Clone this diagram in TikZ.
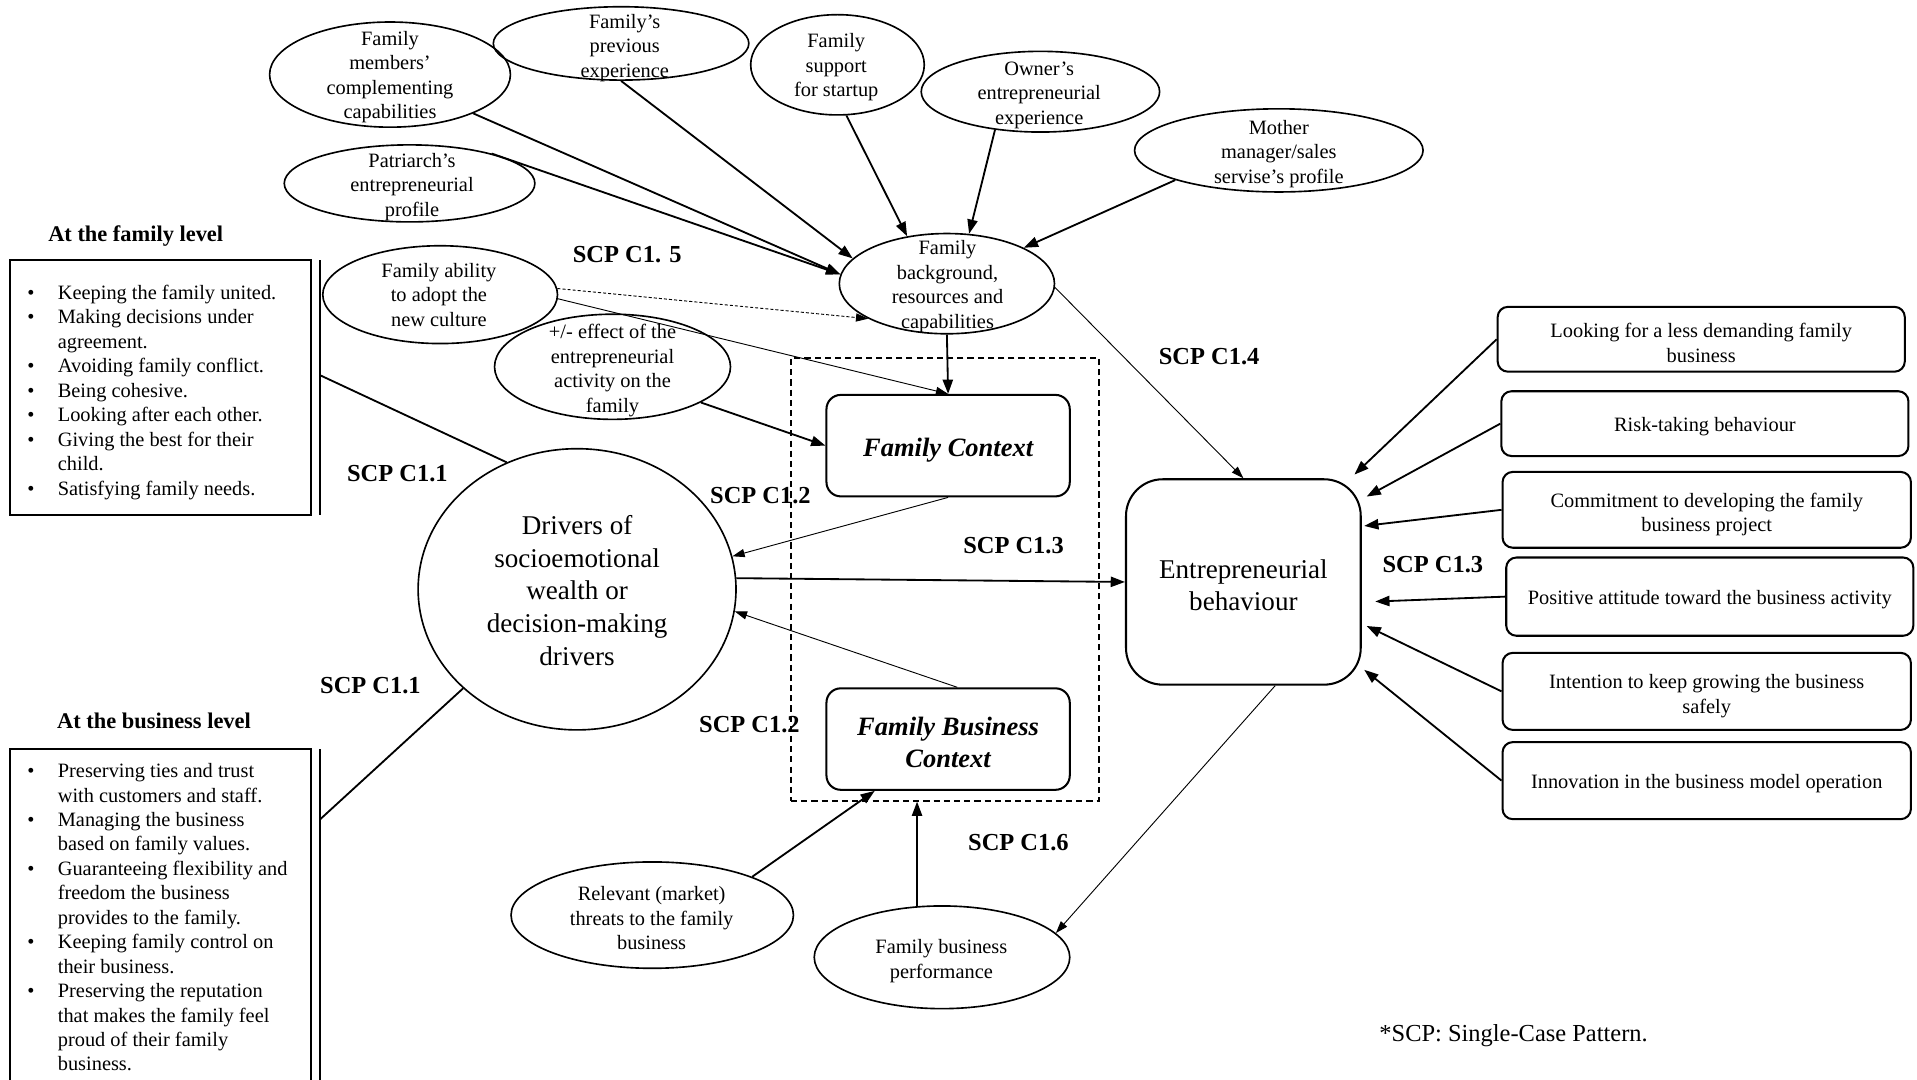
\documentclass[tikz,border=0pt]{standalone}
\usepackage{fontspec}
\setmainfont{Liberation Serif}
\usetikzlibrary{arrows.meta,shapes.geometric}
\newcommand{\tstrut}[1]{\rule{0pt}{#1}}
\begin{document}
\begin{tikzpicture}[x=0.6pt,y=-0.6pt,
  ell/.style={ellipse, draw, line width=0.8pt, inner sep=0pt},
  txt/.style={align=center, font=\fontsize{10}{12}\selectfont, inner sep=0pt, yshift=-1.2pt},
  lowertext/.style={execute at begin node={\rule{0pt}{#1}}},
  rbox/.style={draw, line width=1pt, rounded corners=5pt, inner sep=0pt, align=center, font=\fontsize{10}{12}\selectfont},
  ctx/.style={draw, line width=1pt, rounded corners=7pt, align=center, inner sep=0pt, font=\fontsize{13}{15.6}\selectfont\bfseries\itshape, minimum width=199*0.6pt, minimum height=83*0.6pt},
  scp/.style={font=\fontsize{12}{14}\selectfont\bfseries, inner sep=0pt, yshift=-0.6pt},
  bigarrow/.style={-{Triangle[length=7pt,width=5pt]}, line width=0.9pt},
  smallarrow/.style={-{Triangle[length=6pt,width=4pt]}, line width=0.45pt},
  plainline/.style={line width=0.9pt},
]
\useasboundingbox (0,0) rectangle (1568,883);
\clip (0,0) rectangle (1568,883);

% ---- top ellipses
\node[ell, minimum width=197*0.6pt, minimum height=86*0.6pt] (e1) at (319,61) {};
\node[txt] (e1t) at (319,61) {Family\\members’\\complementing\\capabilities};
\node[ell, minimum width=209*0.6pt, minimum height=60*0.6pt] (e2) at (508,35.5) {};
\node[txt] (e2t) at (511,37) {Family’s\\previous\\experience};
\node[ell, minimum width=142*0.6pt, minimum height=82*0.6pt] (e3) at (685,53) {};
\node[txt] (e3t) at (684,53) {Family\\support\\for startup};
\node[ell, minimum width=195*0.6pt, minimum height=66*0.6pt] (e4) at (851,75) {};
\node[txt] (e4t) at (850,76) {Owner’s\\entrepreneurial\\experience};
\node[ell, minimum width=236*0.6pt, minimum height=68*0.6pt] (e5) at (1046,123) {};
\node[txt] (e5t) at (1046,124) {Mother\\manager/sales\\servise’s profile};
\node[ell, minimum width=205*0.6pt, minimum height=63*0.6pt] (e6) at (335,150) {};
\node[txt] (e6t) at (337,151) {Patriarch’s\\entrepreneurial\\profile};
\node[ell, minimum width=176*0.6pt, minimum height=82*0.6pt] (fb) at (774.5,232) {};
\node[txt] (fbt) at (775,232.5) {Family\\background,\\resources and\\capabilities};
\node[ell, minimum width=192*0.6pt, minimum height=80*0.6pt] (e8) at (360,241) {};
\node[txt] (e8t) at (359,239) {Family ability\\to adopt the\\new culture};
\node[ell, minimum width=193*0.6pt, minimum height=86*0.6pt] (e9) at (501,300) {};
\node[txt] (e9t) at (501,301) {+/- effect of the\\entrepreneurial\\activity on the\\family};

% ---- drivers
\node[ell, minimum width=260*0.6pt, minimum height=230*0.6pt] (dr) at (472,482) {};
\node[txt, font=\fontsize{13.3}{16}\selectfont] (drt) at (472,481) {Drivers of\\socioemotional\\wealth or\\decision-making\\drivers};

% ---- contexts
\node[draw, dash pattern=on 3pt off 2pt, line width=0.8pt, minimum width=252*0.6pt, minimum height=362*0.6pt, inner sep=0pt] (dbox) at (773,474) {};
\node[ctx, lowertext=13.8pt] (fc) at (775.5,364.5) {Family Context};
\node[ctx] (fbc) at (775.5,604.5) {\tstrut{12.4pt}Family Business\\Context};

% ---- entrepreneurial behaviour
\node[draw, line width=1pt, rounded corners=18pt, minimum width=192*0.6pt, minimum height=168*0.6pt, inner sep=0pt, align=center, font=\fontsize{13.3}{16}\selectfont] (eb) at (1017,476) {\tstrut{12.4pt}Entrepreneurial\\behaviour};

% ---- right boxes
\node[rbox, minimum width=333*0.6pt, minimum height=53*0.6pt] (r1) at (1391.5,277.5) {\tstrut{10.8pt}Looking for a less demanding family\\business};
\node[rbox, lowertext=10pt, minimum width=333*0.6pt, minimum height=53*0.6pt] (r2) at (1394.5,346.5) {Risk-taking behaviour};
\node[rbox, minimum width=334*0.6pt, minimum height=62*0.6pt] (r3) at (1396,417) {\tstrut{11.4pt}Commitment to developing the family\\business project};
\node[rbox, lowertext=10pt, minimum width=333*0.6pt, minimum height=64*0.6pt] (r4) at (1398.5,488) {Positive attitude toward the business activity};
\node[rbox, minimum width=334*0.6pt, minimum height=63*0.6pt] (r5) at (1396,565.5) {\tstrut{11.4pt}Intention to keep growing the business\\safely};
\node[rbox, lowertext=10pt, minimum width=334*0.6pt, minimum height=63*0.6pt] (r6) at (1396,638.5) {Innovation in the business model operation};

% ---- bottom ellipses
\node[ell, minimum width=231*0.6pt, minimum height=87*0.6pt] (e16) at (533.5,748.5) {};
\node[txt] (e16t) at (533,749) {Relevant (market)\\threats to the family\\business};
\node[ell, minimum width=209*0.6pt, minimum height=84*0.6pt] (perf) at (770.5,783) {};
\node[txt] (perft) at (770,784) {Family business\\performance};

% ---- left boxes
\node[scp, font=\fontsize{11}{13}\selectfont\bfseries] (famtitle) at (111,192) {At the family level};
\node[draw, line width=1pt, minimum width=246*0.6pt, minimum height=208*0.6pt, inner sep=0pt] (fam) at (131,317) {};
\node[anchor=base west, inner sep=0pt, font=\fontsize{10}{12}\selectfont] (famlist) at (22,245) {\begin{tabular}[t]{@{}p{15pt}@{}l@{}}
\textbullet & Keeping the family united.\\
\textbullet & Making decisions under\\
 & agreement.\\
\textbullet & Avoiding family conflict.\\
\textbullet & Being cohesive.\\
\textbullet & Looking after each other.\\
\textbullet & Giving the best for their\\
 & child.\\
\textbullet & Satisfying family needs.
\end{tabular}};
\draw[plainline] (262,213) -- (262,421);
\coordinate (fl1) at (262,307);

\node[scp, font=\fontsize{11}{13}\selectfont\bfseries] (bustitle) at (126,589) {At the business level};
\node[draw, line width=1pt, minimum width=246*0.6pt, minimum height=300*0.6pt, inner sep=0pt] (bus) at (131,763) {};
\node[anchor=base west, inner sep=0pt, font=\fontsize{10}{12}\selectfont] (buslist) at (22,636) {\begin{tabular}[t]{@{}p{15pt}@{}l@{}}
\textbullet & Preserving ties and trust\\
 & with customers and staff.\\
\textbullet & Managing the business\\
 & based on family values.\\
\textbullet & Guaranteeing flexibility and\\
 & freedom the business\\
 & provides to the family.\\
\textbullet & Keeping family control on\\
 & their business.\\
\textbullet & Preserving the reputation\\
 & that makes the family feel\\
 & proud of their family\\
 & business.
\end{tabular}};
\draw[plainline] (262,613) -- (262,900);
\coordinate (bl1) at (262,670);

% ---- SCP labels
\node[scp] (s15) at (513,207) {SCP C1. 5};
\node[scp] (s11a) at (325,386) {SCP C1.1};
\node[scp] (s11b) at (303,560) {SCP C1.1};
\node[scp] (s12a) at (622,404) {SCP C1.2};
\node[scp] (s12b) at (613,592) {SCP C1.2};
\node[scp] (s13a) at (829,445) {SCP C1.3};
\node[scp] (s14) at (989,291) {SCP C1.4};
\node[scp] (s13b) at (1172,461) {SCP C1.3};
\node[scp] (s16) at (833,688) {SCP C1.6};
\node[font=\fontsize{12}{14}\selectfont, inner sep=0pt] (note) at (1238,847) {*SCP: Single-Case Pattern.};

% ---- connectors
\draw[bigarrow] (e1.-25) -- (fb.175);
\draw[bigarrow] (e6.20) -- (fb.175);
\draw[bigarrow] (e2.south) -- (fb.165);
\draw[bigarrow] (e3.-80) -- (fb.130);
\draw[bigarrow] (e4.-140) -- (fb.66);
\draw[bigarrow] (e5.-164) -- (fb.25);
\draw[smallarrow, dash pattern=on 1.5pt off 1pt] (e8.3) -- (fb.-156);
\draw[smallarrow] (e8.-2) -- (fc.north);
\draw[bigarrow] (fb.south) -- (fc.north);
\draw[bigarrow] (e9.-22) -- (fc.west);
\draw[smallarrow] (fc.south) -- (dr.12);
\draw[bigarrow] (dr.4) -- (eb.west);
\draw[smallarrow] ([xshift=4.5pt]fbc.north) -- (dr.-8);
\draw[bigarrow] (e16.21) -- ([xshift=-36pt]fbc.south);
\draw[bigarrow] (perf.116) -- (perf.116 |- dbox.south);
\draw[smallarrow] ([xshift=15.6pt]eb.south) -- (perf.12);
\draw[smallarrow] (fb.-2) -- (eb.north);
\draw[bigarrow] (r1.west) -- ([shift={(-6,-3)}]eb.north east);
\draw[bigarrow] (r2.west) -- ([shift={(4,15)}]eb.north east);
\draw[bigarrow] (r3.west) -- ([shift={(2,39)}]eb.north east);
\draw[bigarrow] (r4.west) -- ([shift={(11,16)}]eb.east);
\draw[bigarrow] (r5.west) -- ([shift={(4,36)}]eb.east);
\draw[bigarrow] (r6.west) -- ([shift={(2,-13)}]eb.south east);
\draw[plainline] (fl1) -- (dr.119);
\draw[plainline] (bl1) -- (dr.-139);
\end{tikzpicture}
\end{document}
